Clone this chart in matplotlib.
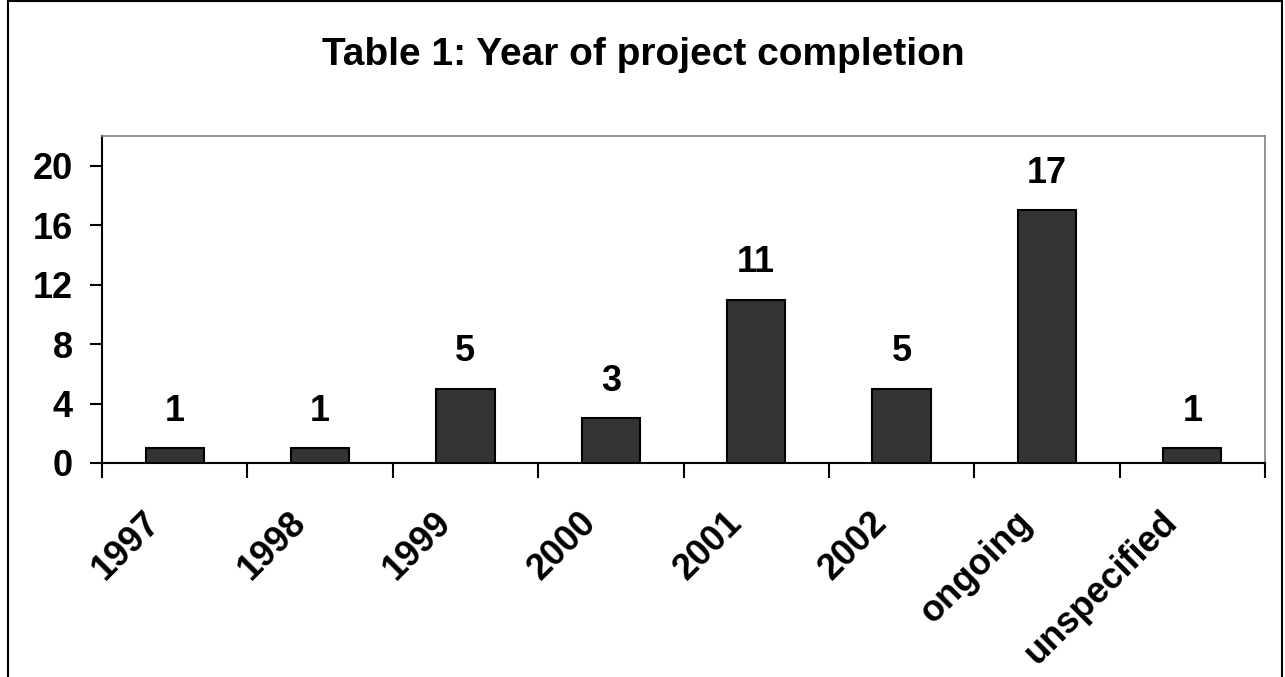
import matplotlib
matplotlib.use("Agg")
import matplotlib.pyplot as plt
from matplotlib.patches import Rectangle
from matplotlib.transforms import ScaledTranslation

categories = ["1997", "1998", "1999", "2000", "2001", "2002", "ongoing", "unspecified"]
counts = [1, 1, 5, 3, 11, 5, 17, 1]
y_ticks = [0, 4, 8, 12, 16, 20]

plt.rcParams["font.family"] = ["Liberation Sans", "DejaVu Sans"]
plt.rcParams["font.weight"] = "bold"

fig = plt.figure(figsize=(12.85, 6.77), dpi=100)
ax = fig.add_axes([102 / 1285, 1 - 463 / 677, (1265 - 102) / 1285, (463 - 136) / 677])

x = list(range(len(categories)))
ax.bar(x, counts, width=0.4, color="#333333", edgecolor="black", linewidth=1.5, zorder=3)

for xi, v in zip(x, counts):
    ax.annotate(str(v), (xi, v), xytext=(0, 14), textcoords="offset points",
                ha="center", va="bottom", fontsize=26, fontweight="bold")

ax.set_xlim(-0.5, len(categories) - 0.5)
ax.set_ylim(0, 22)
ax.set_yticks(y_ticks)
ax.set_yticklabels([str(t) for t in y_ticks], fontsize=26, fontweight="bold")
ax.tick_params(axis="y", direction="out", length=9, width=1.5, pad=12)

# category ticks sit between bars, labels at the bar centres
ax.set_xticks([i - 0.5 for i in range(len(categories) + 1)])
ax.set_xticklabels([])
ax.tick_params(axis="x", direction="out", length=11, width=1.5)
ax.set_xticks(x, minor=True)
ax.set_xticklabels(categories, minor=True, rotation=45, ha="right",
                   rotation_mode="anchor", fontsize=26, fontweight="bold")
ax.tick_params(axis="x", which="minor", length=0, pad=30)
shift = ScaledTranslation(-23 / 72, 0, fig.dpi_scale_trans)
for lbl in ax.get_xticklabels(minor=True):
    lbl.set_transform(lbl.get_transform() + shift)

for side in ["top", "right"]:
    ax.spines[side].set_color("#808080")
    ax.spines[side].set_linewidth(1.2)
for side in ["left", "bottom"]:
    ax.spines[side].set_color("black")
    ax.spines[side].set_linewidth(1.5)

fig.text(643 / 1285, 1 - 55 / 677, "Table 1: Year of project completion",
         ha="center", va="center", fontsize=28, fontweight="bold")

fig.patches.append(Rectangle((8 / 1285, -0.01), (1282 - 8) / 1285, 1 - 1 / 677 + 0.01,
                             transform=fig.transFigure, fill=False,
                             edgecolor="black", linewidth=1.5))

fig.savefig("out.png", dpi=100)
